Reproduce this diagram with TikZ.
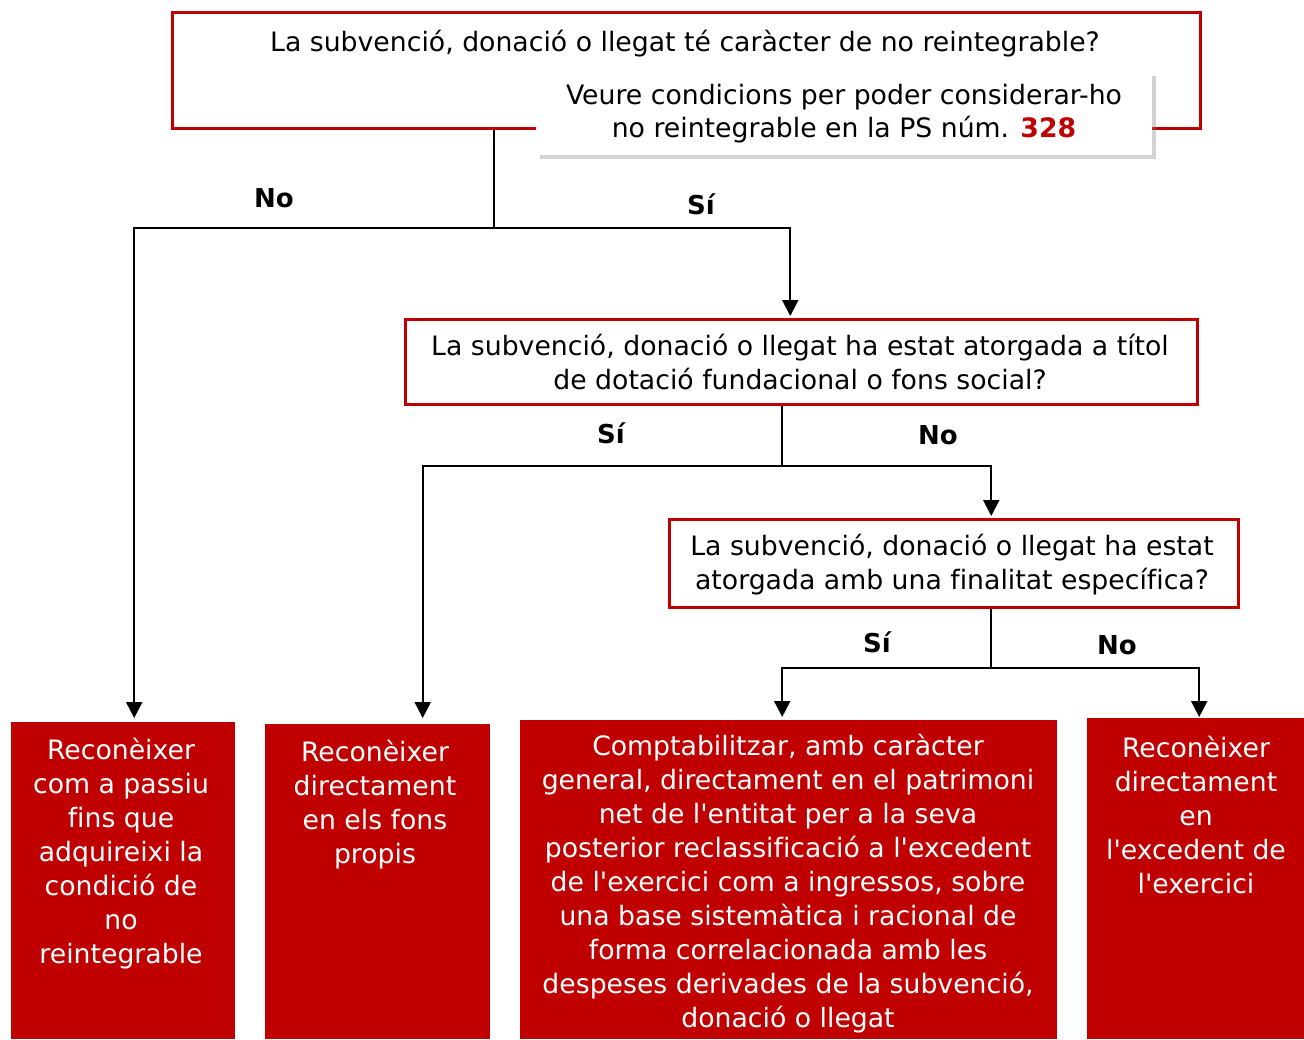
\documentclass[tikz,border=0pt]{standalone}
\usepackage{fontspec}
\setmainfont{DejaVu Sans}[Ligatures={TeXOff,NoCommon}]
\usetikzlibrary{shadows,arrows.meta}
\definecolor{dred}{RGB}{192,0,0}
\begin{document}
\begin{tikzpicture}[x=1pt,y=-1pt,
 qbox/.style={draw=dred,line width=2.5pt,fill=white,anchor=north west,inner sep=0},
 abox/.style={fill=dred,anchor=north west,inner sep=0},
 qtext/.style={font=\fontsize{26.7}{34}\selectfont,align=center,inner sep=0},
 atext/.style={font=\fontsize{26.7}{34}\selectfont,align=center,text=white,inner sep=0},
 notebox/.style={fill=white,inner sep=0,minimum width=616pt,minimum height=83pt,
   drop shadow={opacity=0.35,shadow xshift=4pt,shadow yshift=-4pt}},
 lab/.style={font=\fontsize{26}{30}\selectfont\bfseries,inner sep=0},
 conn/.style={line width=1.5pt},
 arr/.style={line width=2pt,-{Triangle[width=16pt,length=16pt]}},
]
\useasboundingbox (0,0) rectangle (1304,1039);

% question boxes
\node[qbox,minimum width=1028pt,minimum height=116pt] (q1) at (171,11) {};
\node[qtext] (t1) at (685,44) {La subvenció, donació o llegat té caràcter de no reintegrable?};
\node[notebox] (note) at (844,113.5) {};
\node[qtext,font=\fontsize{26.7}{33}\selectfont] (nt) at (844,114) {Veure condicions per poder considerar-ho\\no reintegrable en la PS núm. \textcolor{dred}{\bfseries 328}};

\node[qbox,minimum width=792pt,minimum height=85pt] (q2) at (404,318) {};
\node[qtext] (t2) at (800,362.5) {La subvenció, donació o llegat ha estat atorgada a títol\\de dotació fundacional o fons social?};

\node[qbox,minimum width=569pt,minimum height=88pt] (q3) at (668,518) {};
\node[qtext] (t3) at (952,564.5) {La subvenció, donació o llegat ha estat\\atorgada amb una finalitat específica?};

% answer boxes
\node[abox,minimum width=224pt,minimum height=317pt] (b1) at (11,722) {};
\node[atext] (a1) at (121,854) {Reconèixer\\com a passiu\\fins que\\adquireixi la\\condició de\\no\\reintegrable};
\node[abox,minimum width=225pt,minimum height=315pt] (b2) at (265,724) {};
\node[atext] (a2) at (375,805) {Reconèixer\\directament\\en els fons\\propis};
\node[abox,minimum width=537pt,minimum height=319pt] (b3) at (520,720) {};
\node[atext] (a3) at (788,883.5) {Comptabilitzar, amb caràcter\\general, directament en el patrimoni\\net de l'entitat per a la seva\\posterior reclassificació a l'excedent\\de l'exercici com a ingressos, sobre\\una base sistemàtica i racional de\\forma correlacionada amb les\\despeses derivades de la subvenció,\\donació o llegat};
\node[abox,minimum width=217pt,minimum height=321pt] (b4) at (1087,718) {};
\node[atext] (a4) at (1196,815) {Reconèixer\\directament\\en\\l'excedent de\\l'exercici};

% junctions
\coordinate (j1) at (494,228);
\coordinate (j2) at (782,466);
\coordinate (j3) at (991,668);

% connectors
\draw[conn] (q1.south -| j1) -- (j1);
\draw[conn] (q2.south -| j2) -- (j2);
\draw[conn] (q3.south -| j3) -- (j3);

\draw[arr] (j1) -| ([xshift=11pt,yshift=4pt]b1.north);
\draw[arr] (j1) -| ([xshift=-11pt,yshift=2pt]q2.north);
\draw[arr] (j2) -| ([xshift=45pt,yshift=6pt]b2.north);
\draw[arr] (j2) -| ([xshift=37.5pt,yshift=2pt]q3.north);
\draw[arr] (j3) -| ([xshift=-6.5pt,yshift=3pt]b3.north);
\draw[arr] (j3) -| ([xshift=3.5pt,yshift=1pt]b4.north);

% labels
\node[lab] (l1) at (274,198) {No};
\node[lab] (l2) at (701,204) {Sí};
\node[lab] (l3) at (611,433) {Sí};
\node[lab] (l4) at (938,435) {No};
\node[lab] (l5) at (877,642) {Sí};
\node[lab] (l6) at (1117,645) {No};
\end{tikzpicture}
\end{document}
